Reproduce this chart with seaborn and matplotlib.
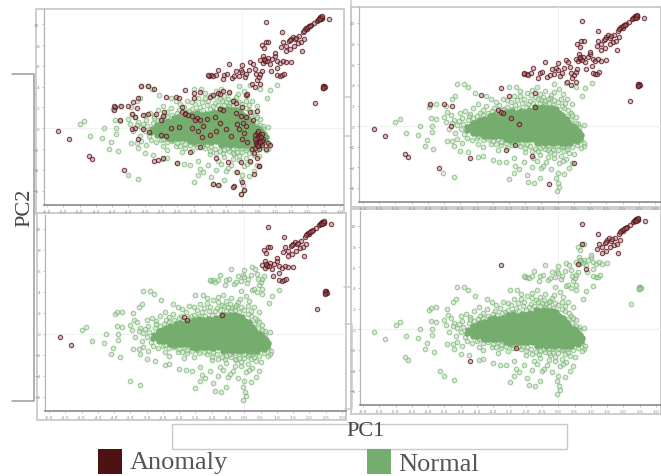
import matplotlib
matplotlib.use('Agg')
import matplotlib.pyplot as plt
from matplotlib.lines import Line2D
from matplotlib.patches import Rectangle
import pandas as pd
import seaborn as sns

W, H = 661, 477
GREEN = '#74ad6e'
DARK = '#5a1216'

x_ticks = [-6.0, -5.5, -5.0, -4.5, -4.0, -3.5, -3.0, -2.5, -2.0, -1.5, -1.0, -0.5, 0.0, 0.5, 1.0, 1.5, 2.0, 2.5, 3.0]
y_ticks = [-6, -4, -2, 0, 2, 4, 6, 8, 10]

# dense middle of the cloud, read row by row
core = [
    (-0.70, 1.85), (-0.58, 1.80), (-0.44, 1.85), (-0.31, 1.80), (-0.18, 1.75), (-0.06, 1.65),
    (-1.55, 1.35), (-1.40, 1.45), (-1.27, 1.30), (-1.13, 1.42), (-1.00, 1.38), (-0.87, 1.55), (-0.75, 1.50), (-0.62, 1.45), (-0.50, 1.55), (-0.36, 1.48), (-0.24, 1.52), (-0.10, 1.40), (0.03, 1.28), (0.14, 1.10),
    (-2.10, 0.95), (-1.97, 1.05), (-1.83, 1.02), (-1.70, 1.10), (-1.57, 1.00), (-1.44, 1.08), (-1.30, 0.98), (-1.17, 1.06), (-1.04, 1.02), (-0.91, 1.10), (-0.78, 1.03), (-0.65, 1.12), (-0.52, 1.05), (-0.38, 1.10), (-0.25, 1.02), (-0.12, 1.06), (0.01, 0.95), (0.14, 0.85), (0.25, 0.70),
    (-2.40, 0.60), (-2.28, 0.72), (-2.15, 0.65), (-2.02, 0.74), (-1.89, 0.68), (-1.76, 0.75), (-1.63, 0.66), (-1.50, 0.73), (-1.37, 0.68), (-1.24, 0.75), (-1.11, 0.66), (-0.98, 0.72), (-0.85, 0.67), (-0.72, 0.74), (-0.59, 0.68), (-0.46, 0.75), (-0.33, 0.66), (-0.20, 0.72), (-0.07, 0.68), (0.06, 0.60), (0.19, 0.52), (0.31, 0.40),
    (-2.62, 0.28), (-2.50, 0.36), (-2.37, 0.30), (-2.24, 0.38), (-2.11, 0.32), (-1.98, 0.37), (-1.85, 0.30), (-1.72, 0.38), (-1.59, 0.33), (-1.46, 0.36), (-1.33, 0.30), (-1.20, 0.38), (-1.07, 0.32), (-0.94, 0.37), (-0.81, 0.31), (-0.68, 0.38), (-0.55, 0.33), (-0.42, 0.36), (-0.29, 0.30), (-0.16, 0.38), (-0.03, 0.32), (0.10, 0.26), (0.23, 0.18), (0.36, 0.10), (0.47, 0.02),
    (-2.78, -0.05), (-2.66, 0.02), (-2.53, -0.03), (-2.40, 0.03), (-2.27, -0.02), (-2.14, 0.04), (-2.01, -0.04), (-1.88, 0.03), (-1.75, -0.02), (-1.62, 0.02), (-1.49, -0.04), (-1.36, 0.04), (-1.23, -0.03), (-1.10, 0.03), (-0.97, -0.02), (-0.84, 0.02), (-0.71, -0.04), (-0.58, 0.03), (-0.45, -0.02), (-0.32, 0.04), (-0.19, -0.03), (-0.06, 0.02), (0.07, -0.05), (0.20, -0.08), (0.33, -0.12), (0.46, -0.18), (0.57, -0.25),
    (-2.80, -0.36), (-2.68, -0.30), (-2.55, -0.35), (-2.42, -0.29), (-2.29, -0.34), (-2.16, -0.30), (-2.03, -0.36), (-1.90, -0.31), (-1.77, -0.35), (-1.64, -0.29), (-1.51, -0.34), (-1.38, -0.30), (-1.25, -0.36), (-1.12, -0.31), (-0.99, -0.35), (-0.86, -0.29), (-0.73, -0.34), (-0.60, -0.30), (-0.47, -0.36), (-0.34, -0.31), (-0.21, -0.35), (-0.08, -0.29), (0.05, -0.34), (0.18, -0.38), (0.31, -0.40), (0.44, -0.44), (0.56, -0.48), (0.66, -0.55),
    (-2.62, -0.66), (-2.49, -0.62), (-2.36, -0.68), (-2.23, -0.63), (-2.10, -0.67), (-1.97, -0.62), (-1.84, -0.68), (-1.71, -0.63), (-1.58, -0.67), (-1.45, -0.62), (-1.32, -0.68), (-1.19, -0.63), (-1.06, -0.67), (-0.93, -0.62), (-0.80, -0.68), (-0.67, -0.63), (-0.54, -0.67), (-0.41, -0.62), (-0.28, -0.68), (-0.15, -0.63), (-0.02, -0.67), (0.11, -0.62), (0.24, -0.68), (0.37, -0.72), (0.50, -0.76), (0.62, -0.80), (0.72, -0.85),
    (-2.28, -0.95), (-2.15, -1.00), (-2.02, -0.94), (-1.89, -0.98), (-1.76, -0.93), (-1.63, -0.99), (-1.50, -0.94), (-1.37, -0.98), (-1.24, -0.93), (-1.11, -0.99), (-0.98, -0.94), (-0.85, -0.98), (-0.72, -0.93), (-0.59, -0.99), (-0.46, -0.94), (-0.33, -0.98), (-0.20, -0.93), (-0.07, -0.99), (0.06, -0.94), (0.19, -0.98), (0.32, -1.02), (0.45, -1.04), (0.58, -1.08), (0.70, -1.12),
    (-1.60, -1.25), (-1.47, -1.30), (-1.34, -1.24), (-1.21, -1.28), (-1.08, -1.23), (-0.95, -1.29), (-0.82, -1.24), (-0.69, -1.28), (-0.56, -1.23), (-0.43, -1.29), (-0.30, -1.24), (-0.17, -1.28), (-0.04, -1.23), (0.09, -1.29), (0.22, -1.30), (0.35, -1.34), (0.48, -1.36), (0.60, -1.40),
    (-0.65, -1.60), (-0.52, -1.54), (-0.39, -1.60), (-0.26, -1.55), (-0.13, -1.60), (0.00, -1.56), (0.13, -1.62), (0.26, -1.60), (0.38, -1.65),
]

# sparse points around the core, green in all four panels
fringe = [
    (-5.00, 0.40), (-4.85, 0.70), (-4.67, -0.70), (-4.25, 0.00), (-4.30, -0.90), (-3.88, -0.55), (-4.03, -1.30), (-4.10, -1.95),
    (-3.83, -2.20), (-3.97, 1.90), (-3.92, 2.05), (-3.75, 2.10), (-3.90, 0.75), (-3.87, 0.00), (-3.76, 0.70), (-3.52, -4.50),
    (-3.20, -4.90), (-3.10, 4.10), (-2.90, 4.05), (-2.76, 3.80), (-3.15, 2.90), (-3.25, 2.60), (-3.43, 2.00), (-3.40, 1.35),
    (-3.50, 0.90), (-3.45, 0.40), (-3.30, 1.10), (-3.20, 0.60), (-3.10, 0.10), (-3.35, -0.30), (-3.15, -0.70), (-3.00, 1.30),
    (-2.85, 1.50), (-2.70, 1.20), (-2.95, 0.80), (-2.75, 0.55), (-3.42, -1.45), (-3.25, -1.40), (-3.10, -1.20), (-3.20, -1.90),
    (-2.95, -1.60), (-2.80, -1.15), (-2.65, -1.35), (-2.50, -1.15), (-2.60, 1.75), (-2.45, 2.10), (-2.30, 1.60), (-2.40, 1.30),
    (-2.55, 3.20), (-2.20, 2.90), (-2.05, 2.60), (-2.20, 1.95), (-1.95, 1.75), (-1.80, 2.05), (-1.65, 1.70), (-1.55, 2.55),
    (-1.50, 3.75), (-1.28, 3.75), (-1.15, 3.40), (-1.35, 2.90), (-1.05, 2.60), (-0.90, 2.15), (-0.95, 3.20), (-0.80, 3.55),
    (-0.65, 3.75), (-0.55, 3.10), (-0.70, 2.80), (-0.40, 3.40), (-0.20, 3.05), (-0.10, 2.55), (0.05, 3.60), (0.15, 3.10),
    (0.00, 2.30), (0.30, 2.60), (0.45, 2.10), (0.20, 1.75), (0.40, 1.30), (0.55, 0.85), (0.62, 0.25), (-0.10, 4.10),
    (0.25, 4.20), (0.55, 3.80), (0.75, 2.95), (0.85, 3.65), (1.05, 4.20), (0.80, 0.15), (0.72, -1.35), (0.82, -1.65),
    (0.80, -1.95), (0.72, -2.10), (-3.00, -2.40), (-2.75, -2.55), (-2.45, -1.75), (-2.30, -2.05), (-2.30, -2.85), (-2.45, -2.95),
    (-2.05, -1.70), (-1.85, -2.30), (-1.75, -1.85), (-1.55, -2.15), (-2.00, -3.30), (-1.80, -3.45), (-1.60, -3.50), (-1.35, -3.10),
    (-1.30, -3.90), (-1.20, -4.20), (-1.35, -4.50), (-1.50, -5.15), (-1.05, -3.50), (-1.00, -2.50), (-0.95, -4.70), (-0.80, -4.00),
    (-0.75, -3.10), (-0.90, -5.40), (-0.72, -5.50), (-0.55, -5.00), (-0.50, -4.10), (-0.55, -2.80), (-0.35, -3.50), (-0.25, -2.50),
    (-0.20, -4.20), (-0.10, -3.05), (0.00, -4.50), (0.05, -3.60), (-0.05, -5.00), (0.02, -5.50), (0.05, -5.90), (-0.03, -6.30),
    (0.20, -2.40), (0.25, -3.20), (0.35, -4.10), (0.45, -3.55), (0.50, -2.70), (0.20, -4.60), (0.12, -2.05), (-0.70, -2.20),
    (-1.15, -1.90), (-1.40, -1.80), (-0.40, -2.20),
    (-3.05, 0.45), (-2.92, 0.20), (-2.98, -0.25), (-2.88, -0.75), (-3.25, 0.30), (-2.72, 0.95), (-2.60, 0.75), (-2.48, 1.00),
    (-2.30, 1.10), (-2.15, 1.30), (-2.02, 1.50), (-1.88, 1.35), (-1.72, 1.55), (-1.55, 1.85), (-1.40, 1.70), (-1.30, 2.05),
    (-1.20, 1.75), (-1.10, 2.20), (-0.98, 1.85), (-0.85, 2.45), (-0.75, 2.25), (-1.25, 2.50), (-1.45, 2.30), (-1.70, 2.65),
    (-1.90, 2.35), (-1.15, 2.95), (-0.82, 3.05), (-0.62, 2.65), (-0.45, 2.85), (-0.25, 2.75), (-0.12, 3.30), (0.10, 2.65),
    (0.22, 2.20), (0.12, 1.95), (0.32, 1.55), (0.45, 1.10), (0.30, 1.00), (0.42, 0.60), (0.55, 0.35), (0.65, -0.10),
    (-2.45, -1.00), (-2.30, -1.30), (-2.15, -1.25), (-2.00, -1.40), (-1.85, -1.25), (-1.75, -1.50), (-1.90, -1.70), (-1.60, -1.65),
    (-1.45, -1.55), (-1.25, -1.70), (-1.10, -1.60), (-0.95, -1.75), (-0.85, -1.95), (-1.00, -2.15), (-0.80, -2.40), (-0.55, -2.10),
    (-0.60, -2.40), (-0.30, -2.35), (-0.15, -2.25), (0.00, -2.30), (0.30, -2.20), (0.45, -2.05), (0.60, -1.80), (0.35, -2.60),
    (-0.10, -2.70), (0.10, -2.85), (-0.30, -3.00), (0.15, -3.40), (-0.45, -3.85), (-0.65, -3.40),
    (-0.50, 2.55), (-0.38, 2.45), (-0.30, 2.60), (-0.55, 2.20), (-0.42, 2.15), (-0.28, 2.25), (-0.15, 2.05),
    (-0.45, -1.90), (-0.30, -1.85), (-0.15, -1.90), (0.00, -1.86), (0.15, -1.92), (0.28, -1.90),
]

# anomalies in panel 1 only
anomaly_first = [
    (-3.12, 4.10), (-2.90, 4.05), (-2.72, 3.80), (-2.05, 3.05), (-1.95, 2.90), (-3.22, 2.90), (-3.35, 2.55), (-3.90, 2.05),
    (-3.95, 1.80), (-3.73, 2.10), (-3.75, 0.75), (-3.40, 1.35), (-3.30, 1.10), (-3.05, 1.25), (-2.90, 1.35), (-2.65, 1.40),
    (-2.40, 1.55), (-2.45, 1.20), (-2.50, 0.80), (-3.40, -0.10), (-3.22, -1.00), (-3.05, -0.10), (-2.88, -0.40), (-2.50, -0.60),
    (-2.35, -0.75), (-2.20, 0.00), (-1.95, 0.15), (-1.85, 2.00), (-1.75, 1.50), (-1.55, 1.20), (-1.40, 1.00), (-1.30, 0.75),
    (-1.10, 0.90), (-1.55, 0.00), (-1.35, -0.30), (-1.25, -0.80), (-1.00, -0.60), (-0.80, -0.30), (-0.85, 1.05), (-0.60, 1.80),
    (-0.70, 0.50), (-0.50, -0.05), (-0.35, -0.70), (-0.20, 1.45), (-0.15, 0.45), (0.00, 2.00), (-0.05, 1.20), (0.02, 0.55),
    (-0.10, -0.10), (0.05, -0.45), (0.00, -1.00), (0.15, -1.35), (0.10, 1.05), (0.10, 0.25), (-0.20, 2.40), (-0.30, 2.65),
    (0.32, 0.75), (0.25, 1.60), (0.45, 1.65), (0.30, -1.95), (0.35, -2.35), (0.45, -0.50), (0.52, -0.85), (0.45, -1.10),
    (0.55, -1.25), (0.42, -1.45), (0.50, -1.65), (0.38, -1.85), (0.60, -0.55), (0.62, -1.00), (0.48, -0.30), (0.58, -1.45),
    (0.50, -1.95), (0.80, -1.40), (0.85, -1.65), (0.72, -1.95), (-1.00, 3.00), (-0.90, 3.20), (-0.75, 3.35), (-0.60, 3.55),
    (-0.40, 3.45), (0.10, 3.20), (0.15, 3.25), (-1.30, 3.50), (-1.50, 3.35), (-2.58, -3.05), (-2.45, -2.90), (-2.00, -3.30),
    (-0.90, -5.35), (-0.75, -5.45), (-0.25, -5.55), (-0.03, -6.30), (0.05, -5.90), (0.00, -5.20), (0.35, -4.35), (0.52, -3.65),
    (-0.15, -4.25), (-0.05, -3.25), (0.25, -3.10), (0.45, -2.85), (-0.45, -3.20),
    (0.40, -0.65), (0.47, -0.75), (0.55, -0.70), (0.50, -0.95), (0.42, -1.25), (0.48, -1.40), (0.55, -1.05), (0.60, -1.20),
    (0.52, -1.50), (0.44, -1.60), (0.46, -0.90), (0.58, -0.85), (0.53, -1.35), (0.40, -1.05), (0.60, -1.60), (0.47, -1.75),
]

# anomalies in panels 1 and 2
anomaly_shared = [
    (-3.95, 2.10), (-2.35, 3.05), (-1.75, 3.70), (-1.50, 2.95), (-0.70, 3.25), (-0.70, 1.85), (-1.85, 1.60), (-1.75, 1.35),
    (-1.68, 1.25), (-1.45, 0.75), (-1.20, 0.20), (-3.50, 2.10), (-3.25, 1.95), (-3.30, 0.00), (-2.70, -3.10), (-1.30, -1.80),
    (-1.60, -2.30), (-0.80, -2.85), (-0.28, -5.60), (0.50, -3.60),
]

# anomalies in the first three panels, near the cloud
anomaly_low = [
    (-5.65, -0.30), (-5.33, -1.00), (-4.72, -2.70), (-4.62, -3.00), (-3.65, -4.05),
]

# upper branch, lower part: dark in panels 1 and 2, green in 3 and 4
branch_low = [
    (-1.03, 5.05), (-0.95, 5.10), (-0.90, 5.00), (-1.05, 5.15), (-0.82, 5.15), (-0.75, 5.60), (-0.60, 4.70), (-0.55, 5.15),
    (-0.48, 5.25), (-0.40, 6.20), (-0.32, 4.80), (-0.25, 5.00), (-0.18, 5.50), (-0.10, 5.05), (-0.05, 5.60), (0.00, 5.40),
    (0.00, 6.10), (0.08, 4.90), (0.12, 5.20), (0.20, 5.60), (0.25, 6.40), (0.32, 6.20), (0.38, 5.70), (0.42, 5.20),
    (0.30, 4.30), (0.45, 4.65), (0.50, 4.95), (0.55, 5.25), (0.60, 5.50), (0.40, 4.00), (0.55, 4.25),
]

# upper branch, middle part: dark in panels 1 to 3, green in panel 4
branch_mid = [
    (0.55, 6.55), (0.62, 6.30), (0.70, 6.60), (0.78, 6.75), (0.65, 6.95), (0.85, 6.20), (0.92, 6.70), (1.00, 6.95),
    (1.00, 7.20), (1.08, 6.50), (1.15, 6.30), (1.25, 6.50), (1.35, 6.35), (1.50, 6.40), (0.60, 8.00), (0.68, 7.70),
    (0.72, 8.30), (0.80, 8.30), (1.08, 5.15), (1.15, 5.05), (1.22, 5.10), (1.28, 5.25), (1.05, 5.80), (0.88, 5.55),
    (2.23, 2.40), (2.50, 3.95), (2.52, 4.05), (2.48, 3.90), (2.51, 4.00), (2.49, 4.10), (2.53, 3.95), (2.47, 3.85),
    (0.70, 6.50), (0.75, 6.45), (0.68, 6.70),
]

# upper branch, top part: dark in every panel
branch_top = [
    (0.74, 10.20), (1.23, 9.25), (1.25, 8.30), (1.20, 7.80), (1.35, 7.95), (1.42, 8.35), (1.50, 8.60), (1.55, 8.80),
    (1.62, 8.55), (1.70, 8.20), (1.75, 8.85), (1.85, 9.25), (1.92, 9.50), (1.84, 7.40), (2.00, 9.55), (2.05, 9.80),
    (2.12, 9.95), (2.20, 10.10), (2.28, 10.35), (2.35, 10.50), (2.40, 10.60), (2.45, 10.65), (2.38, 10.70), (2.43, 10.55),
    (2.67, 10.50), (1.45, 7.60), (1.35, 7.40), (1.60, 7.95), (1.90, 8.60), (1.80, 8.25),
    (2.32, 10.45), (2.37, 10.55), (2.42, 10.70), (2.46, 10.60), (2.40, 10.50), (2.44, 10.75), (1.95, 9.60), (2.02, 9.70),
    (2.08, 9.85), (1.88, 9.40), (1.65, 8.70), (1.47, 8.45),
]

# panels are placed by hand: (left, right, top, bottom, x -6 px, x 3 px, y 10 px, y -6 px)
panels = [
    (43.5, 343, 10, 206, 47, 340, 25.3, 191.7),
    (359, 661, 8, 203, 363, 655, 24, 189),
    (45, 346, 216, 412, 49, 342, 230, 398),
    (360, 661, 212, 406, 363, 656, 227, 392),
]
frames = [(36, 344, 10, 215), (351, 661, 8, 208), (37, 346, 214, 421), (351, 661, 210, 415)]

normal_by_panel = [
    fringe,
    fringe,
    fringe + branch_low,
    fringe + branch_low + branch_mid + anomaly_low,
]
anomaly_by_panel = [
    anomaly_first + anomaly_shared + anomaly_low + branch_low + branch_mid + branch_top,
    anomaly_shared + anomaly_low + branch_low + branch_mid + branch_top,
    anomaly_low[:2] + anomaly_shared[5:8] + branch_mid + branch_top,
    [(-2.70, -3.10), (-1.30, -1.80), (-1.75, 6.20), (0.60, 6.30), (0.85, 5.80), (0.72, 8.30)] + branch_top,
]

sns.set_theme(style='white')
fig = plt.figure(figsize=(W / 100, H / 100), dpi=100, facecolor='white')


def px_line(xs, ys, color='#c9c9c9', lw=1.1):
    fig.add_artist(Line2D([x / W for x in xs], [1 - y / H for y in ys], color=color, lw=lw))


def px_rect(l, r, t, b, **kw):
    fig.add_artist(Rectangle((l / W, 1 - b / H), (r - l) / W, (b - t) / H, transform=fig.transFigure, **kw))


# thin grey boxes that sit behind the panels
px_line([12, 34, 34, 12], [75, 75, 402, 402], color='#9a9a9a')
px_line([344, 351, 351, 344], [98, 98, 0, 0])
px_line([344, 351, 351, 344], [137, 137, 288, 288])
px_line([345, 352, 352, 345], [410, 410, 325, 325])
px_rect(172, 567, 425, 450, fill=False, ec='#c9c9c9', lw=1.0)

for l, r, t, b in frames:
    px_rect(l, r, t, b, fill=True, fc='white', ec='#c9c9c9', lw=1.3)

core_df = pd.DataFrame(core, columns=['pc1', 'pc2'])

for i, (l, r, t, b, x6, x3, y10, y6) in enumerate(panels):
    ax = fig.add_axes([l / W, 1 - b / H, (r - l) / W, (b - t) / H])
    ax.set_zorder(5)
    ax.patch.set_alpha(0)
    sx = (x3 - x6) / 9
    sy = (y6 - y10) / 16
    normal = pd.DataFrame(normal_by_panel[i], columns=['pc1', 'pc2'])
    anomaly = pd.DataFrame(anomaly_by_panel[i], columns=['pc1', 'pc2'])
    ax.axhline(0, color='#f1f1f1', lw=0.8, zorder=0)
    ax.axvline(0, color='#f1f1f1', lw=0.8, zorder=0)
    sns.scatterplot(data=normal, x='pc1', y='pc2', ax=ax, s=11, linewidth=0.75,
                    color=(0.72, 0.85, 0.70, 0.5), edgecolor=(0.47, 0.70, 0.45, 0.7))
    sns.scatterplot(data=core_df, x='pc1', y='pc2', ax=ax, s=22, linewidth=0, color=GREEN)
    sns.scatterplot(data=anomaly, x='pc1', y='pc2', ax=ax, s=10, linewidth=0.8,
                    color=(0.65, 0.42, 0.44, 0.45), edgecolor=(0.35, 0.07, 0.10, 0.75))
    ax.set_xlim(-6 - (x6 - l) / sx, 3 + (r - x3) / sx)
    ax.set_ylim(-6 - (b - y6) / sy, 10 + (y10 - t) / sy)
    ax.set_xticks(x_ticks)
    ax.set_xticklabels([f'{v:.1f}' for v in x_ticks])
    ax.set_yticks(y_ticks)
    ax.tick_params(length=1.5, width=0.4, color='#999999', labelsize=3.2, labelcolor='#888888', pad=1.5,
                   bottom=True, left=True)
    ax.set_xlabel('')
    ax.set_ylabel('')
    sns.despine(ax=ax)
    ax.spines['left'].set_color('#b5b5b5')
    ax.spines['left'].set_linewidth(0.9)
    ax.spines['bottom'].set_color('#8a8a8a')
    ax.spines['bottom'].set_linewidth(1.2)

serif = 'Liberation Serif'
fig.text(25 / W, 1 - 208 / H, 'PC2', rotation=90, family=serif, fontsize=16, color='#444444', ha='center', va='center')
fig.text(366 / W, 1 - 432 / H, 'PC1', family=serif, fontsize=16, color='#444444', ha='center', va='center')
px_rect(98, 122, 450, 475, fc='#4f1214', ec='none')
px_rect(367, 391, 450, 475, fc=GREEN, ec='none')
fig.text(130 / W, 1 - 463 / H, 'Anomaly', family=serif, fontsize=19, color='#555555', ha='left', va='center')
fig.text(398 / W, 1 - 465 / H, 'Normal', family=serif, fontsize=19, color='#555555', ha='left', va='center')

fig.savefig('out.png', dpi=100)
